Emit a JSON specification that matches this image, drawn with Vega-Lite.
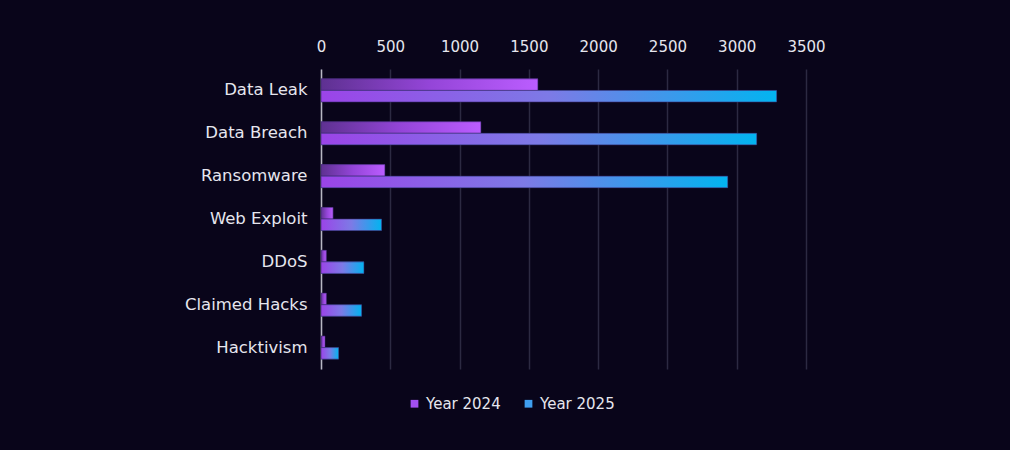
{
  "$schema": "https://vega.github.io/schema/vega-lite/v6.json",
  "width": 485,
  "height": 300,
  "autosize": {"type": "none"},
  "padding": {"left": 321, "top": 69, "right": 204, "bottom": 81},
  "background": "#09051a",
  "config": {
    "view": {"stroke": null},
    "font": "DejaVu Sans",
    "axis": {"labelFont": "DejaVu Sans", "labelColor": "#e6e6ee", "labelFontSize": 15}
  },
  "data": {
    "values": [
      {"category": "Data Leak", "year": "Year 2024", "value": 1565},
      {"category": "Data Leak", "year": "Year 2025", "value": 3288},
      {"category": "Data Breach", "year": "Year 2024", "value": 1154},
      {"category": "Data Breach", "year": "Year 2025", "value": 3144},
      {"category": "Ransomware", "year": "Year 2024", "value": 461},
      {"category": "Ransomware", "year": "Year 2025", "value": 2935},
      {"category": "Web Exploit", "year": "Year 2024", "value": 87},
      {"category": "Web Exploit", "year": "Year 2025", "value": 437},
      {"category": "DDoS", "year": "Year 2024", "value": 38},
      {"category": "DDoS", "year": "Year 2025", "value": 310},
      {"category": "Claimed Hacks", "year": "Year 2024", "value": 38},
      {"category": "Claimed Hacks", "year": "Year 2025", "value": 293},
      {"category": "Hacktivism", "year": "Year 2024", "value": 29},
      {"category": "Hacktivism", "year": "Year 2025", "value": 127}
    ]
  },
  "encoding": {
    "y": {
      "field": "category",
      "type": "nominal",
      "sort": ["Data Leak", "Data Breach", "Ransomware", "Web Exploit", "DDoS", "Claimed Hacks", "Hacktivism"],
      "scale": {"paddingInner": 0.46, "paddingOuter": 0.23},
      "axis": {
        "title": null,
        "ticks": false,
        "domain": true,
        "domainColor": "#b8b8c4",
        "domainWidth": 1.5,
        "labelPadding": 14,
        "labelFontSize": 16.5
      }
    },
    "yOffset": {"field": "year", "type": "nominal", "sort": ["Year 2024", "Year 2025"]},
    "x": {
      "field": "value",
      "type": "quantitative",
      "scale": {"domain": [0, 3500], "nice": false},
      "axis": {
        "orient": "top",
        "title": null,
        "format": "d",
        "values": [0, 500, 1000, 1500, 2000, 2500, 3000, 3500],
        "domain": false,
        "ticks": false,
        "grid": true,
        "gridColor": "#2c2a42",
        "gridWidth": 1.5,
        "labelPadding": 15,
        "labelFlush": false,
        "labelFontSize": 15
      }
    }
  },
  "layer": [
    {
      "mark": {"type": "bar"},
      "encoding": {
        "color": {
          "field": "year",
          "type": "nominal",
          "scale": {"domain": ["Year 2024", "Year 2025"], "range": ["#a24ff0", "#3f9ff0"]},
          "legend": {
            "title": null,
            "orient": "none",
            "legendX": 86,
            "legendY": 327,
            "direction": "horizontal",
            "symbolType": "square",
            "symbolSize": 60,
            "labelColor": "#e6e6ee",
            "labelFontSize": 15,
            "labelFont": "DejaVu Sans",
            "columnPadding": 20,
            "symbolOffset": 0
          }
        }
      }
    },
    {
      "mark": {"type": "bar", "stroke": "#3a2a70", "strokeWidth": 0.6},
      "encoding": {
        "color": {
          "condition": {
            "test": "datum.year === 'Year 2024'",
            "value": {
              "gradient": "linear", "x1": 0, "y1": 0, "x2": 1, "y2": 0,
              "stops": [
                {"offset": 0, "color": "#5e3191"},
                {"offset": 0.5, "color": "#9445d8"},
                {"offset": 1, "color": "#bb5dff"}
              ]
            }
          },
          "value": {
            "gradient": "linear", "x1": 0, "y1": 0, "x2": 1, "y2": 0,
            "stops": [
              {"offset": 0, "color": "#9b44e8"},
              {"offset": 0.5, "color": "#7d7ae6"},
              {"offset": 1, "color": "#02b4f0"}
            ]
          }
        }
      }
    }
  ]
}
